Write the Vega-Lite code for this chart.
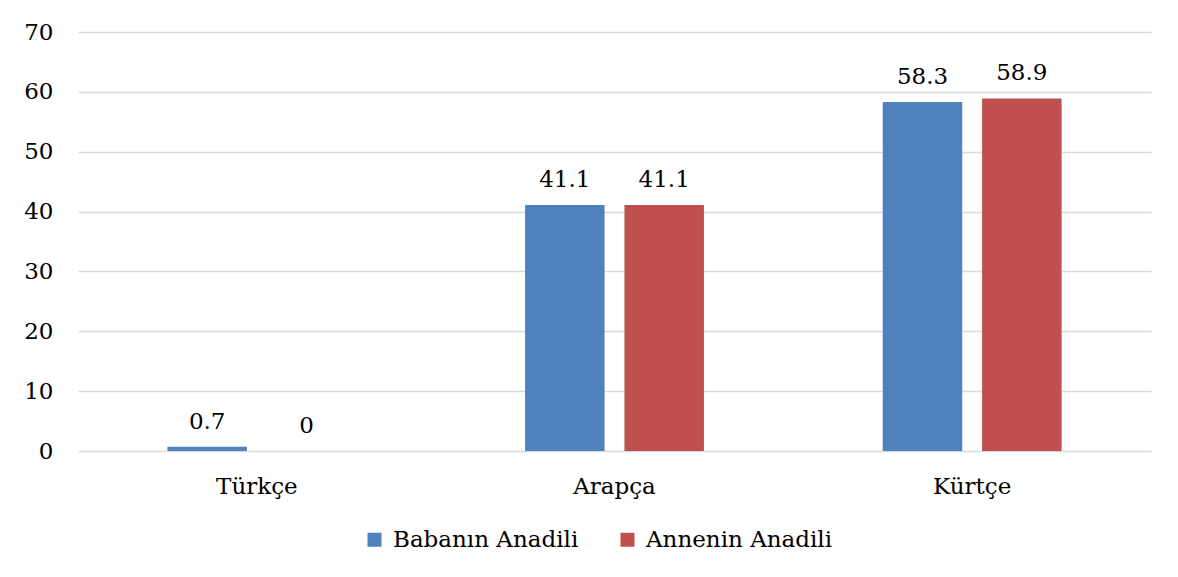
{
  "$schema": "https://vega.github.io/schema/vega-lite/v6.json",
  "width": 1073,
  "height": 419,
  "autosize": {"type": "none"},
  "padding": {"left": 78, "top": 32, "right": 27, "bottom": 126},
  "background": "white",
  "config": {
    "view": {"stroke": null},
    "font": "DejaVu Serif"
  },
  "data": {
    "values": [
      {"dil": "Türkçe", "seri": "Babanın Anadili", "deger": 0.7},
      {"dil": "Türkçe", "seri": "Annenin Anadili", "deger": 0},
      {"dil": "Arapça", "seri": "Babanın Anadili", "deger": 41.1},
      {"dil": "Arapça", "seri": "Annenin Anadili", "deger": 41.1},
      {"dil": "Kürtçe", "seri": "Babanın Anadili", "deger": 58.3},
      {"dil": "Kürtçe", "seri": "Annenin Anadili", "deger": 58.9}
    ]
  },
  "encoding": {
    "x": {
      "field": "dil", "type": "nominal", "sort": ["Türkçe", "Arapça", "Kürtçe"],
      "scale": {"paddingInner": 0.5, "paddingOuter": 0.25},
      "axis": {"title": null, "labelAngle": 0, "domain": false, "ticks": false, "labelFontSize": 23, "labelColor": "#000000", "labelPadding": 24, "labelFont": "DejaVu Serif"}
    },
    "xOffset": {
      "field": "seri", "type": "nominal", "sort": ["Babanın Anadili", "Annenin Anadili"],
      "scale": {"paddingInner": 0.2, "paddingOuter": 0}
    },
    "y": {
      "field": "deger", "type": "quantitative",
      "scale": {"domain": [0, 70]},
      "axis": {"title": null, "values": [0, 10, 20, 30, 40, 50, 60, 70], "domain": false, "ticks": false, "gridColor": "#d9d9d9", "gridWidth": 1.3, "labelFontSize": 23, "labelColor": "#000000", "labelPadding": 25, "labelFont": "DejaVu Serif"}
    }
  },
  "layer": [
    {
      "mark": {"type": "bar"},
      "encoding": {
        "color": {
          "field": "seri", "type": "nominal", "sort": ["Babanın Anadili", "Annenin Anadili"],
          "scale": {"domain": ["Babanın Anadili", "Annenin Anadili"], "range": ["#4F81BD", "#C0504D"]},
          "legend": {
            "title": null, "orient": "none", "direction": "horizontal",
            "legendX": 285, "legendY": 496,
            "symbolType": "square", "symbolSize": 196, "symbolStrokeWidth": 0,
            "labelFontSize": 23, "labelFont": "DejaVu Serif", "labelColor": "#000000",
            "labelLimit": 400, "labelOffset": 7, "columnPadding": 37, "padding": 0
          }
        }
      }
    },
    {
      "mark": {"type": "text", "baseline": "alphabetic", "dy": -18, "fontSize": 23, "font": "DejaVu Serif", "color": "#000000"},
      "encoding": {
        "text": {"field": "deger", "type": "quantitative"}
      }
    }
  ]
}
